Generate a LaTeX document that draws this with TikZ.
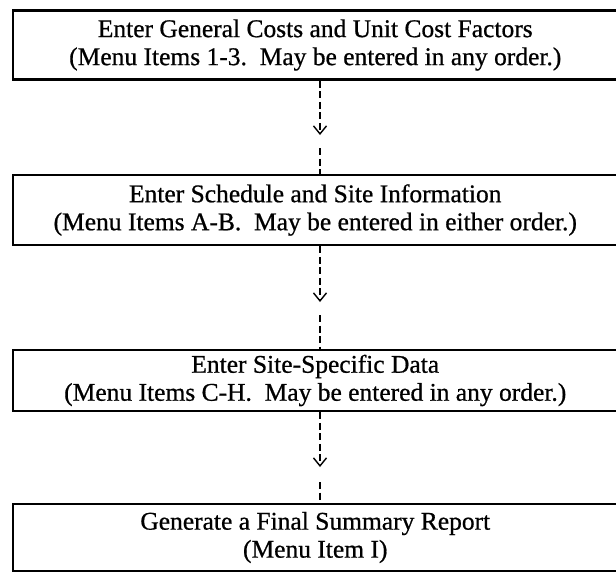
\documentclass[tikz,border=0pt]{standalone}
\usepackage{fontspec}
\setmainfont{Liberation Serif}
% slightly heavier face for the box captions
\newfontfamily\captionface{Liberation Serif}[FakeBold=0.7]
\usetikzlibrary{arrows.meta}
\begin{document}
\begin{tikzpicture}[x=1pt,y=-1pt,
  stagebox/.style={draw, line width=2.6pt, minimum width=604.5pt, inner sep=0pt,
    align=center, font=\captionface\fontsize{25.5}{28}\selectfont},
  flow/.style={line width=1.4pt, dash pattern=on 7pt off 3.5pt},
  tip/.style={-{Straight Barb[length=8pt,width=13pt,line width=1.4pt]}}]
\useasboundingbox (0,0) rectangle (616,573);
\fill[white] (0,0) rectangle (616,573);

\node[stagebox, minimum height=69pt] (b1) at (315.25,45)
  {Enter General Costs and Unit Cost Factors\\(Menu Items 1-3.\ \ May be entered in any order.)};
\node[stagebox, minimum height=70pt] (b2) at (315.25,210)
  {Enter Schedule and Site Information\\(Menu Items A-B.\ \ May be entered in either order.)};
\node[stagebox, minimum height=61pt] (b3) at (315.25,380.5)
  {Enter Site-Specific Data\\(Menu Items C-H.\ \ May be entered in any order.)};
\node[stagebox, minimum height=67pt] (b4) at (315.25,537.5)
  {Generate a Final Summary Report\\(Menu Item I)};

% dashed connectors: arrow head part way down, dashes resume below it
\coordinate (t1) at (320,135); \coordinate (r1) at (320,148);
\coordinate (t2) at (320,302); \coordinate (r2) at (320,315);
\coordinate (t3) at (320,467); \coordinate (r3) at (320,482);

\draw[flow, tip] (b1.south -| t1) -- (t1);
\draw[flow] (r1) -- (b2.north -| r1);
\draw[flow, tip] (b2.south -| t2) -- (t2);
\draw[flow] (r2) -- (b3.north -| r2);
\draw[flow, tip] (b3.south -| t3) -- (t3);
\draw[flow] (r3) -- (b4.north -| r3);
\end{tikzpicture}
\end{document}
